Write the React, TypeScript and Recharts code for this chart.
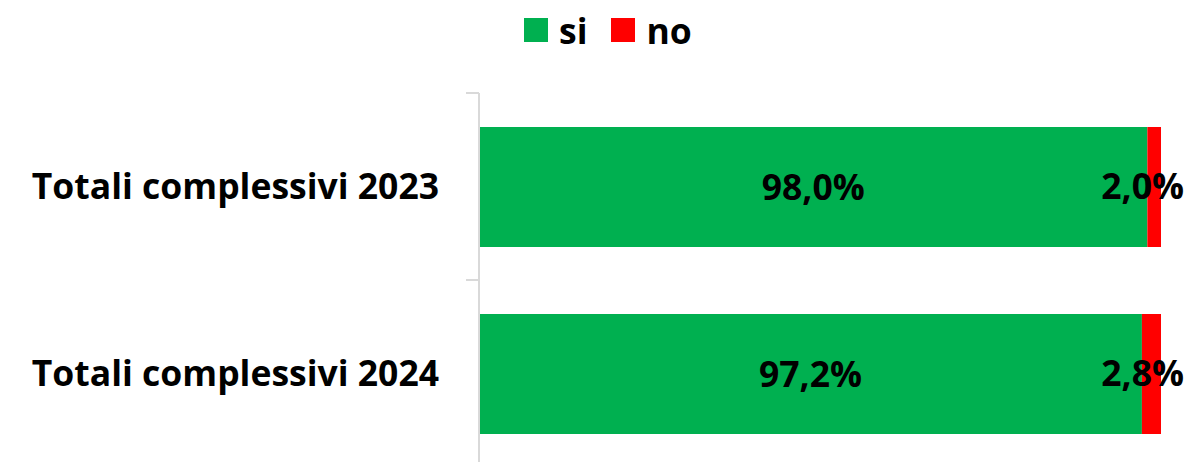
import React from 'react';
import { Bar, BarChart, LabelList, Legend, XAxis, YAxis } from 'recharts';

const categories = ['Totali complessivi 2023', 'Totali complessivi 2024'];
const siValues = [98.0, 97.2];
const noValues = [2.0, 2.8];

const seriesNames = ['si', 'no'];
const seriesColors = ['#00B050', '#FF0000'];

const data = categories.map((name, i) => ({ name, si: siValues[i], no: noValues[i] }));

const FONT = '"Open Sans", "Liberation Sans", sans-serif';
const SIZE = 35.5;

const fmt = (v: number) => v.toFixed(1).replace('.', ',') + '%';

const CategoryTick = (props: any) => {
  const { x, y, payload } = props;
  const half = payload.offset || 0;
  const axisX = x + 40;
  return (
    <g>
      <line x1={axisX - 13} x2={axisX} y1={y - half} y2={y - half} stroke="#d9d9d9" strokeWidth={2} />
      <text x={x} y={y} dy={12} textAnchor="end" fontFamily={FONT} fontWeight="bold" fontSize={SIZE} fill="#000">
        {payload.value}
      </text>
    </g>
  );
};

const LegendBox = () => (
  <div style={{ display: 'flex', alignItems: 'center', fontFamily: FONT, fontWeight: 'bold', fontSize: SIZE, height: 40 }}>
    {seriesNames.map((n, i) => (
      <div key={n} style={{ display: 'flex', alignItems: 'center', marginRight: 24 }}>
        <span style={{ width: 24, height: 24, background: seriesColors[i], display: 'inline-block', marginRight: 11 }} />
        <span>{n}</span>
      </div>
    ))}
  </div>
);

const NoLabel = (props: any) => {
  const { x, y, width, height, value } = props;
  return (
    <text x={x + width + 23} y={y + height / 2} dy={12} textAnchor="end" fontFamily={FONT} fontWeight="bold" fontSize={SIZE} fill="#000">
      {fmt(value)}
    </text>
  );
};

const App = () => (
  <div style={{ position: 'absolute', left: 0, top: 0 }}>
    <BarChart
      width={1192}
      height={475}
      data={data}
      layout="vertical"
      margin={{ top: 53, right: 31, bottom: 8, left: 0 }}
      barSize={120}
    >
      <Legend
        verticalAlign="top"
        content={<LegendBox />}
        wrapperStyle={{ top: 10, left: 524, width: 'auto', height: 40 }}
      />
      <XAxis type="number" domain={[0, 100]} hide />
      <YAxis
        type="category"
        dataKey="name"
        width={479}
        axisLine={{ stroke: '#d9d9d9', strokeWidth: 2 }}
        tickLine={false}
        tickMargin={0}
        tickSize={40}
        tick={<CategoryTick />}
      />
      <Bar dataKey="si" name="si" stackId="a" fill={seriesColors[0]} isAnimationActive={false}>
        <LabelList dataKey="si" position="center" formatter={(v: any) => fmt(Number(v))} fill="#000" fontFamily={FONT} fontWeight="bold" fontSize={SIZE} />
      </Bar>
      <Bar dataKey="no" name="no" stackId="a" fill={seriesColors[1]} isAnimationActive={false}>
        <LabelList dataKey="no" content={<NoLabel />} />
      </Bar>
    </BarChart>
  </div>
);

export default App;
